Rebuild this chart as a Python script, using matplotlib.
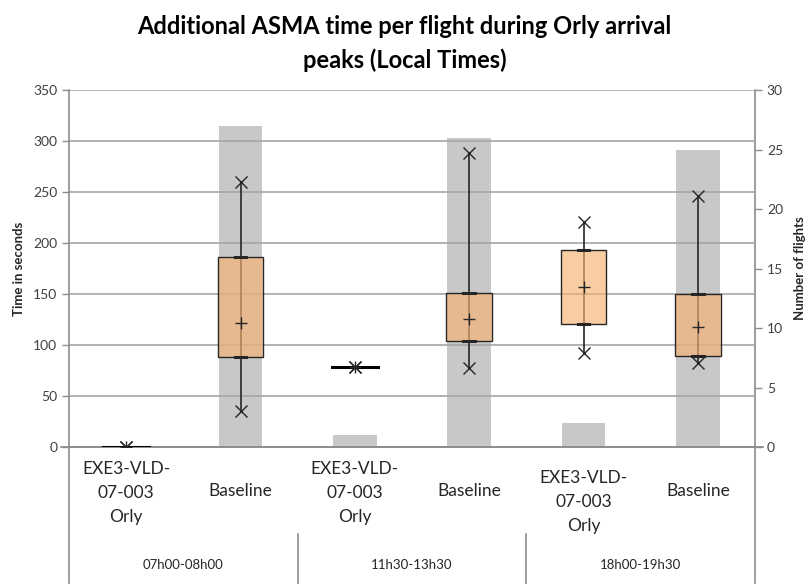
import matplotlib

matplotlib.use("Agg")
import matplotlib.pyplot as plt  # noqa: E402
import numpy as np  # noqa: E402

plt.rcParams["font.family"] = ["Lato", "DejaVu Sans"]

# data
periods = ["07h00-08h00", "11h30-13h30", "18h00-19h30"]
categories = ["EXE3-VLD-\n07-003\nOrly", "Baseline"] * 3
flights = [0, 27, 1, 26, 2, 25]
t_min = [0, 35, 78, 77, 92, 82]
t_q1 = [0, 88, 78, 104, 121, 89]
t_q3 = [0, 186, 78, 151, 193, 150]
t_max = [0, 260, 78, 288, 221, 246]
t_mean = [0, 122, 78, 126, 157, 118]

GREY = "#c8c8c8"
ORANGE = "#f7b273"
LINE = "#262626"
TXT = "#404040"

fig = plt.figure(figsize=(8.09, 5.88), dpi=100)
ax = fig.add_axes([0.0853, 0.2398, 0.848, 0.607])
ax2 = ax.twinx()
ax.set_zorder(ax2.get_zorder() + 1)
ax.patch.set_visible(False)

x = np.arange(len(categories))

# flights as grey bars on the right axis
ax2.bar(x, flights, width=0.38, color=GREY, zorder=1)
ax2.set_ylim(0, 30)
ax2.set_yticks(range(0, 31, 5))

# box plots on the left axis
w = 0.4
for i in x:
    ax.plot([i, i], [t_min[i], t_max[i]], color=LINE, lw=1.2, zorder=3)
    h = t_q3[i] - t_q1[i]
    if h > 0:
        ax.bar(i, h, bottom=t_q1[i], width=w, color=ORANGE, alpha=0.65,
               edgecolor="none", zorder=4)
        ax.bar(i, h, bottom=t_q1[i], width=w, fill=False,
               edgecolor=LINE, lw=1, zorder=5)
        ax.plot([i - 0.05, i + 0.05], [t_q1[i]] * 2, color=LINE, lw=2.2, zorder=6)
        ax.plot([i - 0.05, i + 0.05], [t_q3[i]] * 2, color=LINE, lw=2.2, zorder=6)
    else:
        ax.plot([i - w / 2, i + w / 2], [t_q1[i]] * 2, color="black", lw=2.2,
                zorder=6)
    ax.plot([i, i], [t_min[i], t_max[i]], ls="none", marker="x", ms=8,
            mew=1.0, color=LINE, zorder=7)
    ax.plot(i, t_mean[i], ls="none", marker="+", ms=8, mew=1.0,
            color=LINE, zorder=7)

ax.set_xlim(-0.5, len(categories) - 0.5)
ax.set_ylim(0, 350)
ax.set_yticks(range(0, 351, 50))
ax.grid(axis="y", color="#a6a6a6", lw=1.2)
ax.set_axisbelow(True)

for a in (ax, ax2):
    a.spines["top"].set_visible(False)
    for s in ("left", "right", "bottom"):
        a.spines[s].set_color("#8c8c8c")
        a.spines[s].set_linewidth(1.2)
    a.tick_params(axis="y", colors="#8c8c8c", labelcolor=TXT, labelsize=10,
                  length=5, width=1)
ax2.spines["left"].set_visible(False)
ax2.spines["bottom"].set_visible(False)
ax.spines["right"].set_visible(False)

# two-level category axis
ax.set_xticks([])
for i, lab in enumerate(categories):
    if lab == "Baseline":
        y = -0.1
    else:
        y = -0.04 if i < 4 else -0.065
    ax.text(i, y, lab, transform=ax.get_xaxis_transform(), ha="center",
            va="top", fontsize=12.5, color="#262626", linespacing=1.6)
for k, p in enumerate(periods):
    ax.text(2 * k + 0.5, -0.33, p, transform=ax.get_xaxis_transform(),
            ha="center", va="center", fontsize=9.5, color="#262626")
for xf in (0, 1 / 3, 2 / 3, 1):
    ys = [0, -0.381] if xf in (0, 1) else [-0.245, -0.381]
    ax.plot([xf, xf], ys, transform=ax.transAxes, color="#8c8c8c", lw=1.2,
            clip_on=False)
ax.plot([-0.012, 1.012], [0, 0], transform=ax.transAxes, color="#8c8c8c",
        lw=1.2, clip_on=False, zorder=2)

ax.set_ylabel("Time in seconds", fontsize=9.5, fontweight="bold",
              color="#262626", labelpad=6)
ax2.set_ylabel("Number of flights", fontsize=9.5, fontweight="bold",
               color="#262626", labelpad=8)

fig.suptitle("Additional ASMA time per flight during Orly arrival\npeaks (Local Times)",
             x=0.5, y=0.975, fontsize=17, fontweight="bold", color="black",
             linespacing=1.55)

fig.savefig("out.png", dpi=100)
plt.close(fig)
